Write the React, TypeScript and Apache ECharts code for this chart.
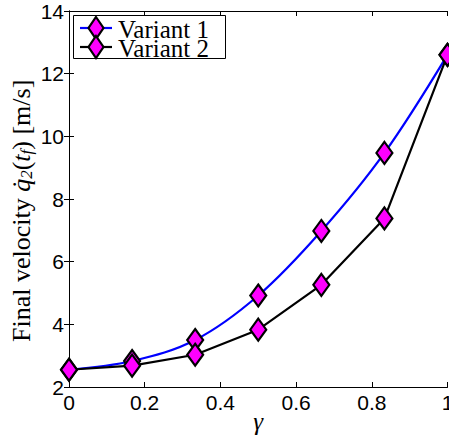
import React, { useEffect, useRef } from "react";
import * as echarts from "echarts";

const gammaValues = [0, 1 / 6, 1 / 3, 0.5, 2 / 3, 5 / 6, 1];
const variant1 = [2.55, 2.83, 3.5, 4.92, 6.98, 9.47, 12.6];
const variant2 = [2.55, 2.68, 3.03, 3.83, 5.26, 7.38, 12.6];
const seriesNames = ["Variant 1", "Variant 2"];
const seriesColors = ["#0000ff", "#000000"];
const yAxisTitle = "{r|Final velocity }{i|q̇}{s|2}{r|(}{i|t}{s|f}{r|) [m/s]}";
const xAxisTitle = "γ";
const xTicks = { min: 0, max: 1, interval: 0.2 };
const yTicks = { min: 2, max: 14, interval: 2 };

const SERIF = "Liberation Serif";
const SANS = "Liberation Sans";

export default function App() {
  const ref = useRef<HTMLDivElement>(null);
  useEffect(() => {
    if (!ref.current) return;
    const chart = echarts.init(ref.current, undefined, { renderer: "svg" });
    const pair = (ys: number[]) => gammaValues.map((x, i) => [x, ys[i]]);
    const tickLabel = { color: "#000", fontFamily: SANS, fontSize: 21 };
    const markerStyle = { color: "#ff00ff", borderColor: "#000", borderWidth: 2.2 };
    const main = { fontFamily: SERIF, fontSize: 26, lineHeight: 27, fill: "#000" };

    const legendX = 73;
    const legendY = 15;
    const rowY = [28, 47];
    const legendEls: any[] = [
      {
        type: "rect",
        shape: { x: legendX + 0.5, y: legendY + 0.5, width: 152, height: 43 },
        style: { fill: "#fff", stroke: "#000", lineWidth: 1 },
      },
    ];
    seriesNames.forEach((name, i) => {
      const cy = rowY[i];
      legendEls.push(
        {
          type: "line",
          shape: { x1: 80, y1: cy, x2: 112, y2: cy },
          style: { stroke: seriesColors[i], lineWidth: 2.2 },
        },
        {
          type: "polygon",
          shape: { points: [[96, cy - 11], [103.5, cy], [96, cy + 11], [88.5, cy]] },
          style: { fill: "#ff00ff", stroke: "#000", lineWidth: 2.2 },
        },
        {
          type: "text",
          x: 118,
          y: cy + 1,
          style: {
            text: name,
            fontFamily: SERIF,
            fontSize: 25,
            lineHeight: 18,
            fill: "#000",
            align: "left",
            verticalAlign: "middle",
          },
        }
      );
    });

    chart.setOption({
      animation: false,
      backgroundColor: "#fff",
      grid: { left: 69, right: 1.5, top: 11, bottom: 49, containLabel: false, outerBoundsMode: "none" },
      graphic: [
        { type: "group", z: 100, children: legendEls },
        {
          type: "text",
          x: 21,
          y: 342,
          rotation: Math.PI / 2,
          style: {
            text: yAxisTitle,
            align: "left",
            verticalAlign: "middle",
            rich: {
              r: { ...main },
              i: { ...main, fontStyle: "italic" },
              s: { fontFamily: SERIF, fontStyle: "italic", fontSize: 17, lineHeight: 18, fill: "#000", verticalAlign: "bottom" },
            },
          },
        },
      ],
      xAxis: [
        {
          type: "value",
          ...xTicks,
          name: xAxisTitle,
          nameLocation: "middle",
          nameGap: 22,
          nameMoveOverlap: false,
          nameTextStyle: { fontFamily: SERIF, fontStyle: "italic", fontSize: 25, color: "#000" },
          axisLine: { lineStyle: { color: "#000", width: 1 } },
          axisTick: { inside: true, length: 5, lineStyle: { color: "#000" } },
          axisLabel: { ...tickLabel, margin: 5 },
          splitLine: { show: false },
        },
        {
          type: "value",
          position: "top",
          ...xTicks,
          axisLine: { lineStyle: { color: "#000", width: 1 } },
          axisTick: { inside: true, length: 5, lineStyle: { color: "#000" } },
          axisLabel: { show: false },
          splitLine: { show: false },
        },
      ],
      yAxis: [
        {
          type: "value",
          ...yTicks,
          axisLine: { lineStyle: { color: "#000", width: 1 } },
          axisTick: { inside: true, length: 5, lineStyle: { color: "#000" } },
          axisLabel: { ...tickLabel, margin: 5 },
          splitLine: { show: false },
        },
        {
          type: "value",
          position: "right",
          ...yTicks,
          axisLine: { lineStyle: { color: "#000", width: 1 } },
          axisTick: { inside: true, length: 5, lineStyle: { color: "#000" } },
          axisLabel: { show: false },
          splitLine: { show: false },
        },
      ],
      series: [
        {
          name: seriesNames[0],
          type: "line",
          data: pair(variant1),
          smooth: 0.35,
          lineStyle: { color: seriesColors[0], width: 2.2 },
          symbol: "diamond",
          symbolSize: [16, 22],
          itemStyle: markerStyle,
          clip: false,
          z: 2,
        },
        {
          name: seriesNames[1],
          type: "line",
          data: pair(variant2),
          lineStyle: { color: seriesColors[1], width: 2.2 },
          symbol: "diamond",
          symbolSize: [16, 22],
          itemStyle: markerStyle,
          clip: false,
          z: 3,
        },
      ],
    });
    return () => chart.dispose();
  }, []);
  return (
    <div
      ref={ref}
      style={{ position: "fixed", left: 0, top: 0, width: 449, height: 436 }}
    />
  );
}
